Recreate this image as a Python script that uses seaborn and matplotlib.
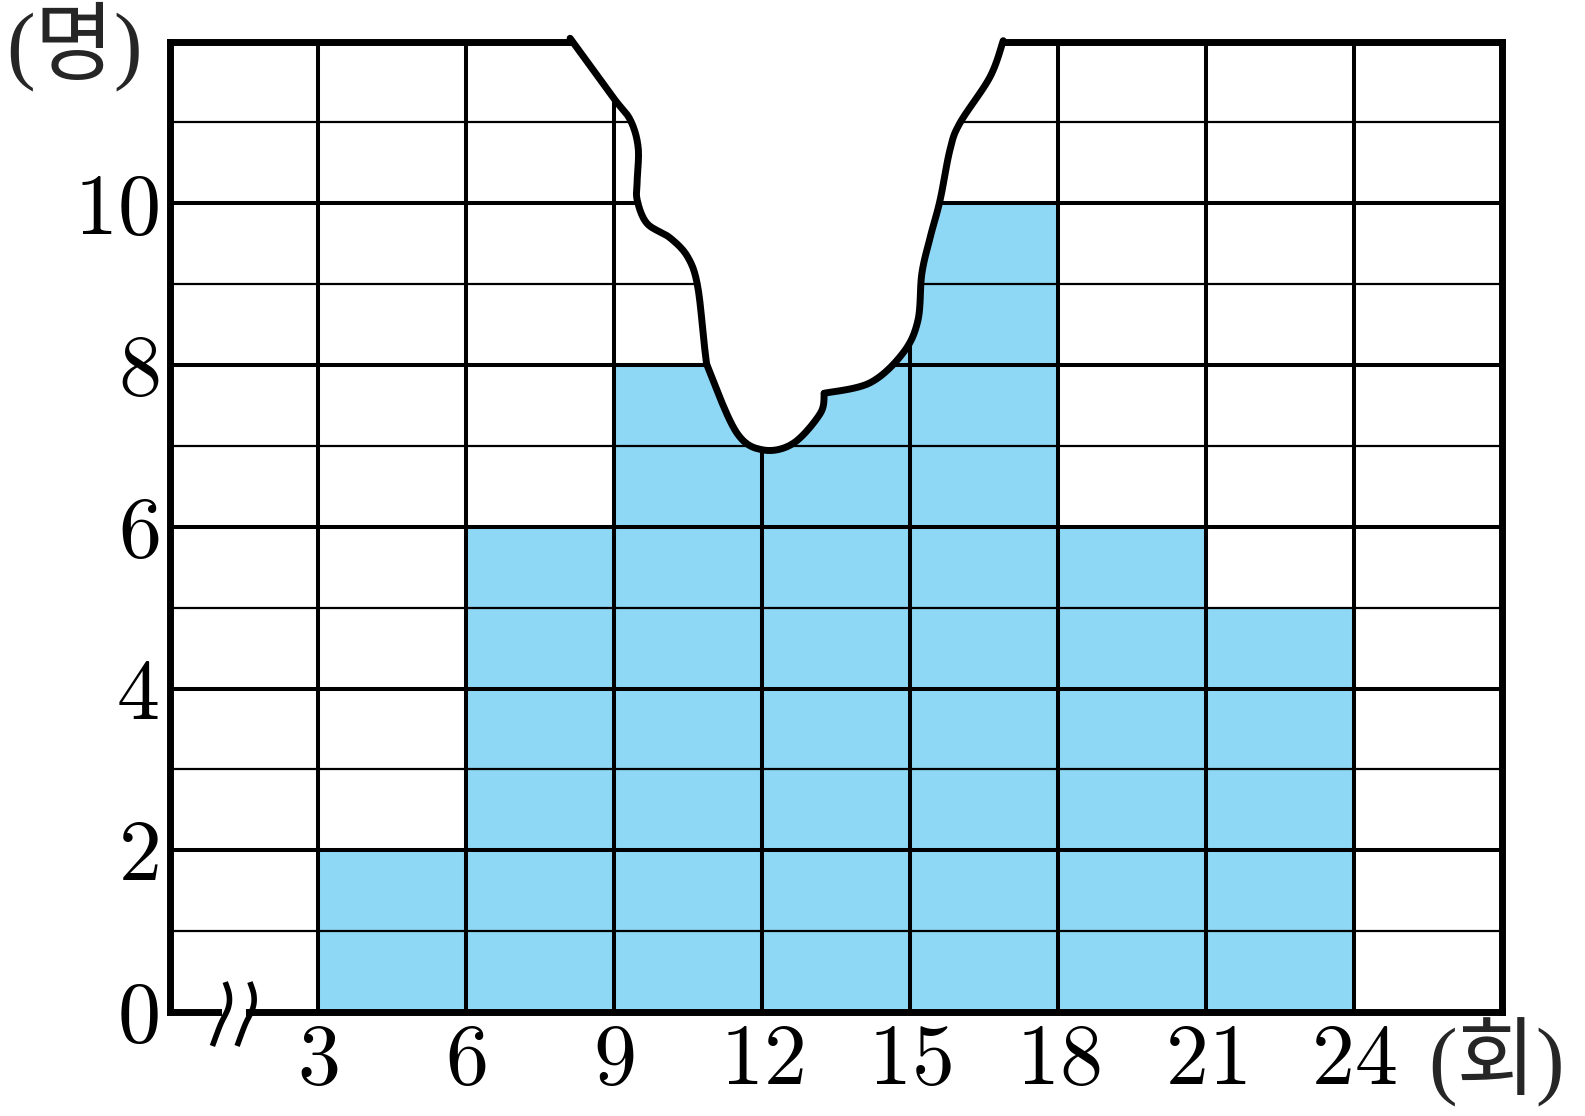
import numpy as np
import matplotlib
matplotlib.use("Agg")
import matplotlib.pyplot as plt
import seaborn as sns

# class intervals (회) and counts (명); the 12~15 bar is hidden by the torn part
class_edges = [3, 6, 9, 12, 15, 18, 21, 24]
counts = [2, 6, 8, 9, 10, 6, 5]
x_ticks = [3, 6, 9, 12, 15, 18, 21, 24]
y_ticks = [0, 2, 4, 6, 8, 10]
x_max = 27
y_max = 12

# outline of the torn-off piece (data units), split at the sharp corner
tear_left_x = [8.11, 8.98, 9.33, 9.49, 9.47, 9.47, 9.67, 10.14, 10.50, 10.70, 10.85, 10.95, 11.49, 12.02, 12.63, 13.18, 13.26]
tear_left_y = [12.04, 11.31, 11.03, 10.69, 10.28, 10.04, 9.75, 9.57, 9.33, 8.96, 8.15, 7.90, 7.16, 6.95, 7.03, 7.40, 7.65]
tear_right_x = [13.26, 14.19, 14.86, 15.16, 15.24, 15.41, 15.61, 15.81, 16.01, 16.62, 16.89]
tear_right_y = [7.65, 7.78, 8.15, 8.55, 9.13, 9.58, 10.04, 10.66, 10.99, 11.56, 12.01]

BLUE = "#8ED8F6"


def smooth(xs, ys, n=12):
    # Catmull-Rom through the points so the torn edge looks hand drawn
    p = np.column_stack([xs, ys])
    p = np.vstack([p[0], p, p[-1]])
    out = []
    for i in range(1, len(p) - 2):
        p0, p1, p2, p3 = p[i - 1], p[i], p[i + 1], p[i + 2]
        for t in np.linspace(0, 1, n, endpoint=False):
            t2, t3 = t * t, t * t * t
            out.append(0.5 * ((2 * p1) + (-p0 + p2) * t
                              + (2 * p0 - 5 * p1 + 4 * p2 - p3) * t2
                              + (-p0 + 3 * p1 - 3 * p2 + p3) * t3))
    out.append(p[-2])
    out = np.array(out)
    return out[:, 0], out[:, 1]


sns.set_style("white")
plt.rcParams["mathtext.fontset"] = "cm"
plt.rcParams["font.family"] = ["Liberation Serif", "Noto Sans CJK KR", "DejaVu Sans"]

fig = plt.figure(figsize=(15.85, 11.16), dpi=100)
ax = fig.add_axes([170 / 1585, 1 - 1012 / 1116, 1332 / 1585, (1012 - 41.5) / 1116])

mids = [(a + b) / 2 for a, b in zip(class_edges[:-1], class_edges[1:])]
sns.histplot(x=mids, weights=counts, bins=class_edges, ax=ax, color=BLUE,
             alpha=1, linewidth=0, zorder=1)
ax.set_xlim(0, x_max)
ax.set_ylim(0, y_max)
ax.set_xlabel("")
ax.set_ylabel("")

# grid: every 1 명 (thicker on even), every 3 회
for v in range(1, y_max):
    ax.hlines(v, 0, x_max, color="black", lw=2.9 if v % 2 == 0 else 1.6, zorder=2, capstyle="butt")
for v in range(3, x_max, 3):
    ax.vlines(v, 0, y_max, color="black", lw=2.9, zorder=2, capstyle="butt")

# torn piece
lx, ly = smooth(tear_left_x, tear_left_y)
rx, ry = smooth(tear_right_x, tear_right_y)
px = np.concatenate([lx, rx[1:], [tear_right_x[-1], tear_left_x[0]]])
py = np.concatenate([ly, ry[1:], [y_max + 0.1, y_max + 0.1]])
ax.fill(px, py, color="white", zorder=3, clip_on=False, lw=0)
ax.plot(lx, ly, color="black", lw=5, zorder=4, solid_joinstyle="round", clip_on=False)
ax.plot(rx, ry, color="black", lw=5, zorder=4, solid_joinstyle="round", clip_on=False)

# frame
for side in ["left", "bottom", "right"]:
    ax.spines[side].set_linewidth(5)
    ax.spines[side].set_color("black")
    ax.spines[side].set_zorder(5)
ax.spines["top"].set_visible(False)
ax.plot([0, tear_left_x[0]], [y_max, y_max], color="black", lw=5, zorder=5,
        clip_on=False, solid_capstyle="projecting")
ax.plot([tear_right_x[-1], x_max], [y_max, y_max], color="black", lw=5, zorder=5,
        clip_on=False, solid_capstyle="projecting")

# axis break mark on the horizontal axis
ax.plot([1.06, 1.55], [0, 0], color="white", lw=7, zorder=6, clip_on=False, solid_capstyle="butt")
bx = np.array([1.12, 1.20, 1.18, 1.02, 0.86])
by = np.array([0.37, 0.21, 0.05, -0.16, -0.42])
for off in [0, 0.5]:
    sx, sy = smooth(bx + off, by)
    ax.plot(sx, sy, color="black", lw=4, zorder=7, clip_on=False, solid_capstyle="butt")

ax.set_xticks(x_ticks)
ax.set_xticklabels([f"${t}$" for t in x_ticks])
ax.set_yticks(y_ticks)
ax.set_yticklabels([f"${t}$" for t in y_ticks])
ax.tick_params(axis="both", length=0, labelsize=62, colors="black")
ax.tick_params(axis="x", pad=8)
ax.tick_params(axis="y", pad=8)

fig.text(6 / 1585, 1 - 2 / 1116, "(명)", fontsize=62, ha="left", va="top")
fig.text(1428 / 1585, 1 - 1018 / 1116, "(회)", fontsize=62, ha="left", va="top")

fig.savefig("out.png", dpi=100)
